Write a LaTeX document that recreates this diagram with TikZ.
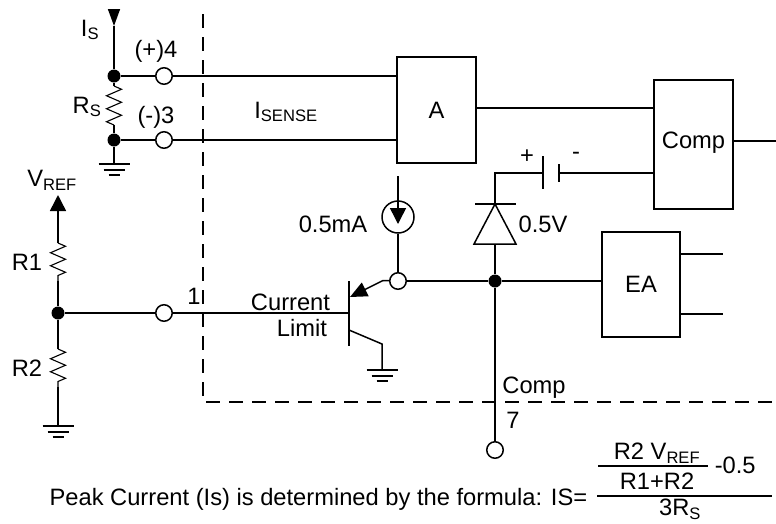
\documentclass[tikz,border=0pt]{standalone}
\usepackage{fontspec}
\setmainfont{Liberation Sans}
\usetikzlibrary{arrows.meta,decorations.pathmorphing,positioning}

\newcommand{\lowtext}[1]{\textsubscript{#1}}

\begin{document}
\begin{tikzpicture} [
      x = 1pt, y = -1pt,
      line width = 1.5pt,
      txt/.style = { inner sep = 0, font = \fontsize{23.7}{26}\selectfont },
      box/.style = { draw, rectangle, inner sep = 0, font = \fontsize{23.7}{26}\selectfont },
      dot/.style = { fill, circle, inner sep = 0, minimum size = 13pt },
      pin/.style = { draw, fill = white, circle, inner sep = 0, minimum size = 16.5pt },
      res/.style = { line width = 1.1pt, decorate, decoration = { zigzag, segment length = 13pt, amplitude = 7.5pt } },
      head/.style = { -{Triangle[length = 16pt, width = 16pt]} },
      frame/.style = { line width = 1.4pt, dash pattern = on 14pt off 9pt },
      gnd/.pic = {
        \draw (-15.5,0) -- (15.5,0);
        \draw (-10.5,6) -- (10.5,6);
        \draw (-5.5,11) -- (5.5,11);
      }
      ]
    \useasboundingbox (0,0) rectangle (776,523);

    % chip outline
    \draw [frame] (203,14) -- (203,402) -- (776,402);

    % blocks
    \node [box, minimum width = 79pt, minimum height = 106pt] (amp) at (436.5,110) {A};
    \node [box, minimum width = 79pt, minimum height = 129pt] (comp) at (693.5,144.5) {};
    \node [txt] (compname) at (693.5,143) {Comp};
    \node [box, minimum width = 78pt, minimum height = 105pt] (ea) at (641,284.5) {EA};

    % junctions and pins
    \node [dot] (top) at (114,76) {};
    \node [dot] (bot) at (114,140) {};
    \node [dot] (mid) at (58,313) {};
    \node [dot] (node) at (495,281) {};
    \node [pin] (pfour) at (164,76) {};
    \node [pin] (pthree) at (164,140) {};
    \node [pin] (pone) at (164,313) {};
    \node [pin] (pseven) at (495,450) {};
    \node [pin] (emit) at (398,281) {};
    \node [draw, circle, inner sep = 0, minimum size = 32pt] (csrc) at (398,217) {};

    \coordinate (istop) at (114,9);
    \coordinate (istip) at (114,26);
    \coordinate (rstop) at (114,86);
    \coordinate (rsbot) at (114,125);
    \coordinate (gndrs) at (114,164);
    \coordinate (vtip) at (58,195);
    \coordinate (rone) at (58,243);
    \coordinate (roneb) at (58,281);
    \coordinate (rtwo) at (58,349);
    \coordinate (rtwob) at (58,387);
    \coordinate (gndr) at (58,426);
    \coordinate (csin) at (398,176);
    \coordinate (cstail) at (398,208);
    \coordinate (cstip) at (398,224);
    \coordinate (barb) at (349,313);
    \coordinate (bartop) at (349,281);
    \coordinate (barbot) at (349,346);
    \coordinate (etip) at (350,297);
    \coordinate (ebend) at (383,280.5);
    \coordinate (cbase) at (349,330);
    \coordinate (cbend) at (382,344);
    \coordinate (gndq) at (382,370);
    \coordinate (diodetop) at (495,204);
    \coordinate (diodeleft) at (474,244);
    \coordinate (dioderight) at (516,244);
    \coordinate (diodebase) at (495,244);
    \coordinate (battplus) at (543,173);
    \coordinate (battminus) at (559,173);
    \coordinate (battcorner) at (495,173);

    % sense input
    \draw [-{Triangle[length = 17pt, width = 12pt]}] (istop) -- (istip);
    \draw (istip) -- (top);
    \draw (top) -- (pfour);
    \draw (pfour) -- (pfour -| amp.west);
    \draw (top) -- (rstop);
    \draw [res] (rstop) -- (rsbot);
    \draw (rsbot) -- (bot);
    \draw (bot) -- (pthree);
    \draw (pthree) -- (pthree -| amp.west);
    \draw (bot) -- (gndrs);
    \pic at (gndrs) {gnd};

    % divider
    \draw [head] (rone) -- (vtip);
    \draw [res] (rone) -- (roneb);
    \draw (roneb) -- (mid);
    \draw (mid) -- (rtwo);
    \draw [res] (rtwo) -- (rtwob);
    \draw (rtwob) -- (gndr);
    \pic at (gndr) {gnd};
    \draw (mid) -- (pone);
    \draw (pone) -- (barb);

    % transistor
    \draw (bartop) -- (barbot);
    \draw (emit) -- (ebend);
    \draw [-{Triangle[length = 17pt, width = 15pt]}] (ebend) -- (etip);
    \draw (cbase) -- (cbend) -- (gndq);
    \pic at (gndq) {gnd};

    % current source
    \draw (csin) -- (cstail);
    \draw [head] (cstail) -- (cstip);
    \draw (csrc) -- (emit);
    \draw (emit) -- (node);

    % diode and battery
    \draw (node) -- (diodebase);
    \draw (diodeleft) -- (diodetop) -- (dioderight) -- cycle;
    \draw (475,204) -- (516,204);
    \draw (diodetop) -- (battcorner) -- (battplus);
    \draw (543,156) -- (543,189);
    \draw (559,164) -- (559,182);
    \draw (battminus) -- (battminus -| comp.west);

    % outputs
    \draw (node) -- (node -| ea.west);
    \draw (node) -- (pseven);
    \draw (amp.east |- 0,108) -- (comp.west |- 0,108);
    \draw (comp.east |- 0,141) -- (776,141);
    \draw (ea.east |- 0,254) -- (723,254);
    \draw (ea.east |- 0,314) -- (723,314);

    % labels
    \node [txt] (lis) at (90,30) {I\lowtext{S}};
    \node [txt] (lfour) at (156,51) {(+)4};
    \node [txt] (lrs) at (87,107) {R\lowtext{S}};
    \node [txt] (lthree) at (156,117) {(-)3};
    \node [txt] (lvref) at (52,180) {V\lowtext{REF}};
    \node [txt] (lrone) at (27,262) {R1};
    \node [txt] (lrtwo) at (27,368) {R2};
    \node [txt] (lone) at (194,296) {1};
    \node [txt] (lsense) at (286,112) {I\lowtext{SENSE}};
    \node [txt] (lcurrent) at (290.5,302) {Current};
    \node [txt] (llimit) at (302,328) {Limit};
    \node [txt] (lma) at (333,224) {0.5mA};
    \node [txt] (lplus) at (527,157) {+};
    \node [txt] (lminus) at (576,156) {-};
    \node [txt] (lvolt) at (543,224) {0.5V};
    \node [txt] (lcomp) at (534,388) {Comp};
    \node [txt] (lseven) at (513,420) {7};

    % formula
    \node [txt, anchor = base east] (peak) at (588,505) {Peak Current (Is) is determined by the formula: IS=};
    \node [txt] (rvref) at (657,453) {R2 V\lowtext{REF}};
    \node [txt] (rsum) at (657,481) {R1+R2};
    \node [txt, anchor = west] (minus) at (714,465) {-0.5};
    \node [txt] (three) at (680,509.5) {3R\lowtext{S}};
    \draw (598,466) -- (708,466);
    \draw (597,496) -- (772,496);
\end{tikzpicture}
\end{document}
